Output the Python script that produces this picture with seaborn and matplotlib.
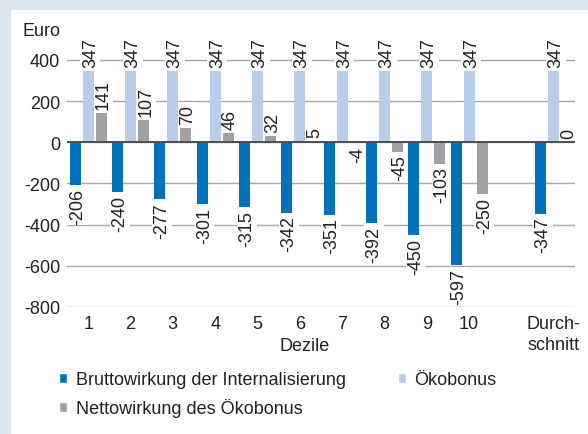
import matplotlib
matplotlib.use("Agg")
import matplotlib.pyplot as plt
from matplotlib.patches import Patch, Rectangle
import seaborn as sns
import pandas as pd

# Data (Euro per household and decile)
categories = ["1", "2", "3", "4", "5", "6", "7", "8", "9", "10", "Durch-\nschnitt"]
brutto = [-206, -240, -277, -301, -315, -342, -351, -392, -450, -597, -347]
oekobonus = [347, 347, 347, 347, 347, 347, 347, 347, 347, 347, 347]
netto = [141, 107, 70, 46, 32, 5, -4, -45, -103, -250, 0]

series_names = ["Bruttowirkung der Internalisierung", "Ökobonus", "Nettowirkung des Ökobonus"]
colors = ["#0072bb", "#b8cde9", "#a1a1a5"]

# deciles on 0..9, average set apart by one empty slot
xpos = list(range(10)) + [11]

rows = []
for name, vals in zip(series_names, [brutto, oekobonus, netto]):
    for x, v in zip(xpos, vals):
        rows.append({"x": x, "series": name, "value": v})
df = pd.DataFrame(rows)

sns.set_theme(style="white")
plt.rcParams["font.family"] = ["Liberation Sans", "DejaVu Sans"]
plt.rcParams["axes.unicode_minus"] = False
FS = 13
plt.rcParams["font.size"] = FS
text_color = "#222222"

fig = plt.figure(figsize=(5.88, 4.35), dpi=100)
fig.patch.set_facecolor("#dbe5f1")
fig.add_artist(Rectangle((11 / 588, 0), 1, 1 - 11 / 435, transform=fig.transFigure,
                         facecolor="white", edgecolor="none", zorder=0))

ax = fig.add_axes([67 / 588, 1 - 308 / 435, (575 - 67) / 588, 267.6 / 435])
ax.set_facecolor("none")

sns.barplot(data=df, x="x", y="value", hue="series", hue_order=series_names,
            palette=colors, native_scale=True, width=0.92, gap=0.15,
            saturation=1, errorbar=None, linewidth=0, legend=False, ax=ax)

# bars above the label backgrounds, zero line above the bars
for container in ax.containers:
    for patch in container.patches:
        patch.set_zorder(2)

ax.set_xlim(-0.5, 11.5)
ax.set_ylim(-800, 500)
ax.set_yticks(range(-800, 401, 200))
ax.set_xticks(xpos, categories)
ax.set_xlabel("")
ax.set_ylabel("")
for s in ax.spines.values():
    s.set_visible(False)
ax.set_axisbelow(True)
ax.yaxis.grid(True, color="#a6a6a6", linewidth=1.0)
ax.xaxis.grid(False)
ax.axhline(0, color="#4d4d4d", linewidth=1.4, zorder=3)
ax.tick_params(axis="both", length=0, labelsize=FS, colors=text_color)
ax.tick_params(axis="y", pad=5)
ax.tick_params(axis="x", pad=6)
for lbl in ax.get_xticklabels():
    lbl.set_linespacing(1.3)
    lbl.set_verticalalignment("top")

# value labels on every bar (nudged right so the digits sit centred on the bar)
for container, vals in zip(ax.containers, [brutto, oekobonus, netto]):
    for patch, v in zip(container.patches, vals):
        cx = patch.get_x() + patch.get_width() / 2
        if v >= 0:
            off, va = 3, "bottom"
        else:
            off, va = -2, "top"
        ax.annotate(f"{v}", xy=(cx, v), xytext=(1.6, off), textcoords="offset points",
                    rotation=90, ha="center", va=va, fontsize=FS, color=text_color,
                    bbox=dict(facecolor="white", edgecolor="none", pad=1.0), zorder=1.5)

fig.text(22 / 588, 1 - 32 / 435, "Euro", fontsize=FS, color=text_color, va="center", ha="left")
fig.text(305 / 588, 1 - 347 / 435, "Dezile", fontsize=FS, color=text_color, va="center", ha="center")

handles = [Patch(facecolor=colors[0]), Patch(facecolor=colors[2]), Patch(facecolor=colors[1])]
labels = [series_names[0], series_names[2], series_names[1]]
fig.legend(handles, labels, ncol=2, loc="upper left", bbox_to_anchor=(43 / 588, 1 - 356 / 435),
           frameon=False, fontsize=FS, handlelength=0.45, handleheight=0.45,
           handletextpad=0.45, columnspacing=2.9, labelspacing=0.55, labelcolor=text_color)

fig.savefig("out.png", dpi=100, facecolor=fig.get_facecolor())
